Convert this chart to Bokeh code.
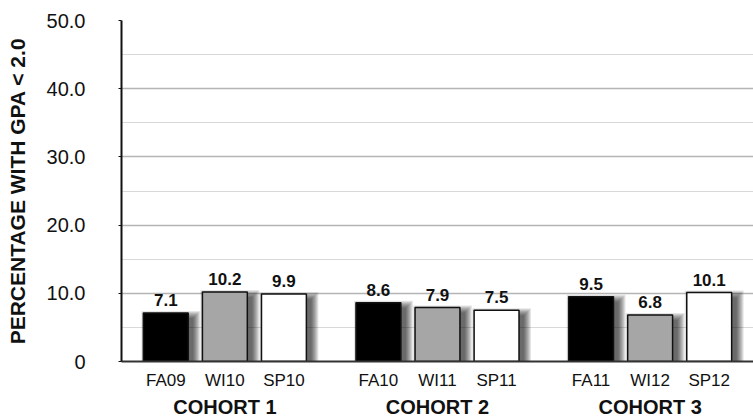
from bokeh.plotting import figure
from bokeh.models import FactorRange, ColumnDataSource, SingleIntervalTicker, PrintfTickFormatter, Range1d
from bokeh.transform import dodge
from bokeh.core.properties import value
from bokeh.embed import file_html
from bokeh.resources import INLINE

cohorts = ["COHORT 1", "COHORT 1", "COHORT 1", "COHORT 2", "COHORT 2", "COHORT 2", "COHORT 3", "COHORT 3", "COHORT 3"]
terms = ["FA09", "WI10", "SP10", "FA10", "WI11", "SP11", "FA11", "WI12", "SP12"]
values = [7.1, 10.2, 9.9, 8.6, 7.9, 7.5, 9.5, 6.8, 10.1]
term_colors = {"FA": "#000000", "WI": "#a6a6a6", "SP": "#ffffff"}

factors = list(zip(cohorts, terms))
src = ColumnDataSource(dict(
    x=factors,
    top=values,
    color=[term_colors[t[:2]] for t in terms],
    label=["%.1f" % v for v in values],
))

FONT = "Liberation Sans"

p = figure(
    width=753, height=420,
    x_range=FactorRange(*factors, factor_padding=0.0, group_padding=0.6,
                        range_padding=0.25, range_padding_units="absolute"),
    y_range=Range1d(0, 50),
    output_backend="svg", toolbar_location=None,
    min_border_left=121, min_border_top=20, min_border_right=0, min_border_bottom=59,
)
p.outline_line_color = None
p.background_fill_color = "white"

# soft drop shadow (layered translucent rectangles)
PX_X = 1.0 / 59.0
PX_Y = 50.0 / 341.0
for k in range(8):
    shadow = dict(x=factors,
                  top=[v - 5 * PX_Y + k * PX_Y for v in values])
    p.vbar(x=dodge("x", 5 * PX_X, range=p.x_range), top="top", bottom=-3,
           width=0.76 + 2 * k * PX_X, source=ColumnDataSource(shadow),
           fill_color="#000000", fill_alpha=0.1, line_color=None)

p.vbar(x="x", top="top", width=0.76, source=src, fill_color="color",
       line_color="#111111", line_width=1.5)

p.text(x="x", y="top", text="label", source=src, text_align="center",
       text_baseline="bottom", y_offset=-7, text_font=value(FONT),
       text_font_style="bold", text_font_size="17px", text_color="#111111")

# y axis
p.yaxis.ticker = SingleIntervalTicker(interval=10, num_minor_ticks=2)
p.yaxis.formatter = PrintfTickFormatter(format="%.1f")
p.yaxis.major_label_overrides = {0: "0"}
p.yaxis.axis_label = "PERCENTAGE WITH GPA < 2.0"
p.yaxis.axis_label_text_font = FONT
p.yaxis.axis_label_text_font_style = "bold"
p.yaxis.axis_label_text_font_size = "21px"
p.yaxis.axis_label_text_color = "#111111"
p.yaxis.axis_label_standoff = 15
p.yaxis.major_label_text_font = FONT
p.yaxis.major_label_text_font_size = "20px"
p.yaxis.major_label_text_color = "#111111"
p.yaxis.major_label_standoff = 33
p.yaxis.major_tick_out = 3
p.yaxis.major_tick_in = 0
p.yaxis.minor_tick_out = 0
p.yaxis.minor_tick_in = 0
p.yaxis.axis_line_color = "#111111"
p.yaxis.axis_line_width = 2
p.yaxis.major_tick_line_color = "#111111"

p.ygrid.grid_line_color = "#b5b5b5"
p.ygrid.grid_line_width = 1.5
p.ygrid.minor_grid_line_color = "#d9d9d9"
p.ygrid.minor_grid_line_width = 1.2
p.xgrid.grid_line_color = None

# x axis: terms and cohort groups
p.xaxis.major_label_text_font = FONT
p.xaxis.major_label_text_font_size = "17px"
p.xaxis.major_label_text_color = "#111111"
p.xaxis.group_text_font = FONT
p.xaxis.group_text_font_style = "bold"
p.xaxis.group_text_font_size = "20px"
p.xaxis.group_text_color = "#111111"
p.xaxis.major_label_standoff = 3
p.xaxis.major_tick_out = 6
p.xaxis.major_tick_in = 0
p.xaxis.major_tick_line_color = None
p.xaxis.minor_tick_line_color = None
p.xaxis.separator_line_color = None
p.xaxis.axis_line_color = "#333333"
p.xaxis.axis_line_width = 2

open("out.html", "w").write(file_html(p, INLINE))
